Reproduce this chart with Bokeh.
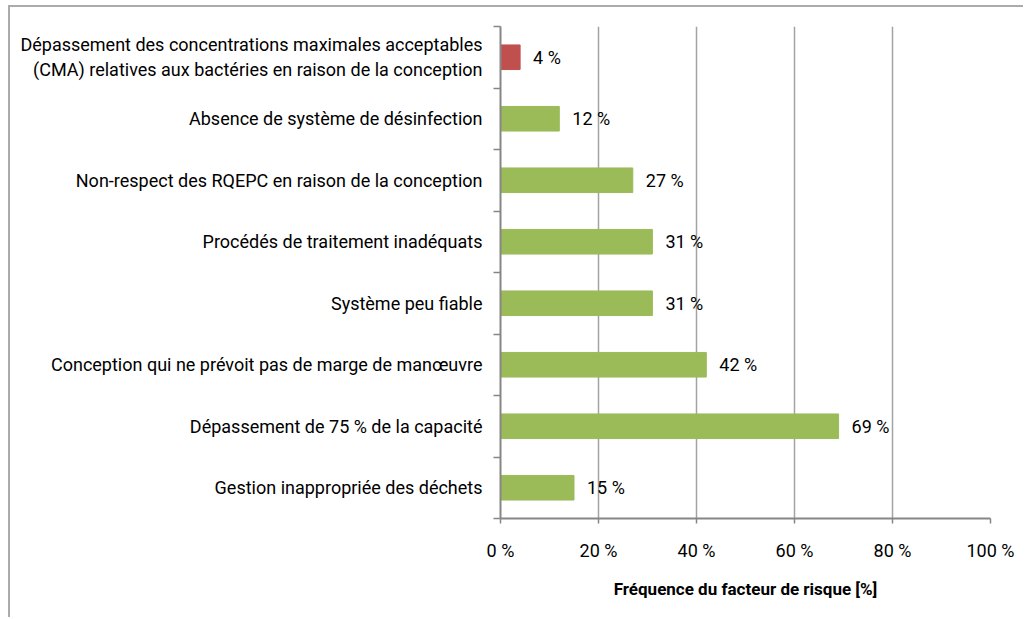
from bokeh.plotting import figure
from bokeh.models import Range1d, FixedTicker, PrintfTickFormatter, ColumnDataSource
from bokeh.embed import file_html
from bokeh.resources import INLINE
from bokeh.core.properties import value

# Risk factors, listed top to bottom
categories = [
    "Dépassement des concentrations maximales acceptables\n(CMA) relatives aux bactéries en raison de la conception",
    "Absence de système de désinfection",
    "Non-respect des RQEPC en raison de la conception",
    "Procédés de traitement inadéquats",
    "Système peu fiable",
    "Conception qui ne prévoit pas de marge de manœuvre",
    "Dépassement de 75 % de la capacité",
    "Gestion inappropriée des déchets",
]
frequencies = [4, 12, 27, 31, 31, 42, 69, 15]
highlighted = [True, False, False, False, False, False, False, False]
x_ticks = [0, 20, 40, 60, 80, 100]
x_title = "Fréquence du facteur de risque [%]"

FONT = "Roboto"
GREEN = "#9BBB59"
RED = "#C0504D"
AXIS = "#868686"
GRID = "#a3a3a3"

n = len(categories)
ypos = [n - i - 0.5 for i in range(n)]

src = ColumnDataSource(dict(
    y=ypos,
    right=frequencies,
    color=[RED if h else GREEN for h in highlighted],
    label=[f"{v} %" for v in frequencies],
))

p = figure(
    width=1015, height=612,
    x_range=Range1d(0, 100), y_range=Range1d(0, n),
    output_backend="svg", toolbar_location=None,
    min_border_left=490, min_border_right=35,
    min_border_top=19, min_border_bottom=101,
    margin=(5, 0, 0, 8),
    background_fill_color="white", border_fill_color="white",
)
p.styles = {"border-top": "2px solid #ababab", "border-left": "2px solid #ababab"}
p.outline_line_color = None

p.hbar(y="y", left=0, right="right", height=0.4, color="color", source=src)
p.text(x="right", y="y", text="label", source=src, x_offset=13,
       text_baseline="middle", text_align="left",
       text_font=value(FONT), text_font_size="18px", text_color="#000000")

# x axis
p.xaxis.ticker = FixedTicker(ticks=x_ticks)
p.xaxis.formatter = PrintfTickFormatter(format="%d %%")
p.xaxis.axis_line_color = AXIS
p.xaxis.axis_line_width = 2
p.xaxis.major_tick_line_color = AXIS
p.xaxis.major_tick_line_width = 1.5
p.xaxis.major_tick_out = 5
p.xaxis.major_tick_in = 0
p.xaxis.minor_tick_line_color = None
p.xaxis.major_label_standoff = 16
p.xaxis.major_label_text_font = FONT
p.xaxis.major_label_text_font_size = "18px"
p.xaxis.major_label_text_color = "#000000"
p.xaxis.axis_label = x_title
p.xaxis.axis_label_text_font = FONT
p.xaxis.axis_label_text_font_size = "17px"
p.xaxis.axis_label_text_font_style = "bold"
p.xaxis.axis_label_text_color = "#000000"
p.xaxis.axis_label_standoff = 15

# y axis: labels at band centres, tick marks at band boundaries
p.yaxis.ticker = FixedTicker(ticks=ypos, minor_ticks=list(range(n + 1)))
p.yaxis.major_label_overrides = {y: c for y, c in zip(ypos, categories)}
p.yaxis.axis_line_color = AXIS
p.yaxis.axis_line_width = 2
p.yaxis.major_tick_line_color = None
p.yaxis.major_tick_out = 0
p.yaxis.major_tick_in = 0
p.yaxis.minor_tick_line_color = AXIS
p.yaxis.minor_tick_line_width = 1.5
p.yaxis.minor_tick_out = 7
p.yaxis.minor_tick_in = 0
p.yaxis.major_label_standoff = 11
p.yaxis.major_label_text_font = FONT
p.yaxis.major_label_text_font_size = "18px"
p.yaxis.major_label_text_color = "#000000"
p.yaxis.major_label_text_align = "right"

p.xgrid.ticker = FixedTicker(ticks=x_ticks[1:])
p.xgrid.grid_line_color = GRID
p.xgrid.grid_line_width = 1.5
p.ygrid.grid_line_color = None

open("out.html", "w").write(file_html(p, INLINE))
